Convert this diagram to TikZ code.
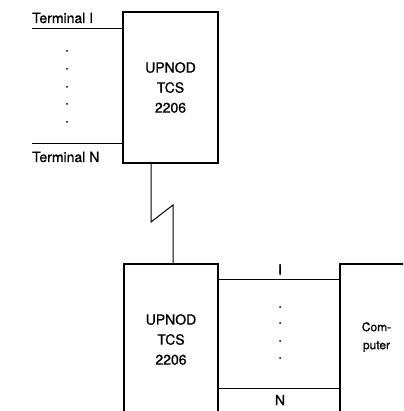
\documentclass[tikz,border=0pt]{standalone}
\usepackage{fontspec}
\setmainfont{TeX Gyre Heros}[FakeBold=0.8]
\usepackage{tikz}
\usetikzlibrary{calc, positioning}

\begin{document}
\begin{tikzpicture}[x=1pt, y=-1pt,
    unit/.style={draw, line width=1.6pt, inner sep=0pt},
    wire/.style={line width=1pt},
    lbl/.style={font=\fontsize{14}{20}\selectfont, align=center, inner sep=0pt}]
    \clip (0,0) rectangle (403,411);

    % === Upper concentrator with its terminals ===
    \node[unit, lbl, minimum width=95pt, minimum height=151pt] (upper) at (170.5,87.5) {UPNOD\\TCS\\2206};

    \coordinate (term1) at (32,29);
    \coordinate (termN) at (32,144);
    \draw[wire] (term1) -- (term1 -| upper.west);
    \draw[wire] (termN) -- (termN -| upper.west);
    \node[lbl, anchor=west] (term1label) at (32,18) {Terminal I};
    \node[lbl, anchor=west] (termNlabel) at (32,157) {Terminal N};
    \foreach \y in {51,69,87,104,122}
        \fill (67,\y) circle (1pt);

    % === Lower concentrator and host ===
    \node[unit, minimum width=94pt, minimum height=160pt, anchor=north west] (lower) at (123,263) {};
    \node[lbl] (lowertext) at (171,339.5) {UPNOD\\TCS\\2206};
    \node[unit, minimum width=90pt, minimum height=160pt, anchor=north west] (host) at (339,263) {};
    \node[lbl, font=\fontsize{12}{18}\selectfont] (hosttext) at (376.5,337) {Com-\\puter};

    % === Link between the two ===
    \coordinate (kinkA) at (151,222);
    \coordinate (kinkB) at (173,205);
    \draw[wire] (kinkA |- upper.south) -- (kinkA) -- (kinkB) -- (kinkB |- lower.north);

    % === Lines I..N to the computer ===
    \coordinate (busI) at (0,279);
    \coordinate (busN) at (0,388);
    \draw[wire] (lower.east |- busI) -- (host.west |- busI);
    \draw[wire] (lower.east |- busN) -- (host.west |- busN);
    \node[lbl] (busIlabel) at (280,269.5) {I};
    \node[lbl] (busNlabel) at (280,400) {N};
    \foreach \y in {307,323,341,358}
        \fill (280,\y) circle (1pt);
\end{tikzpicture}
\end{document}
